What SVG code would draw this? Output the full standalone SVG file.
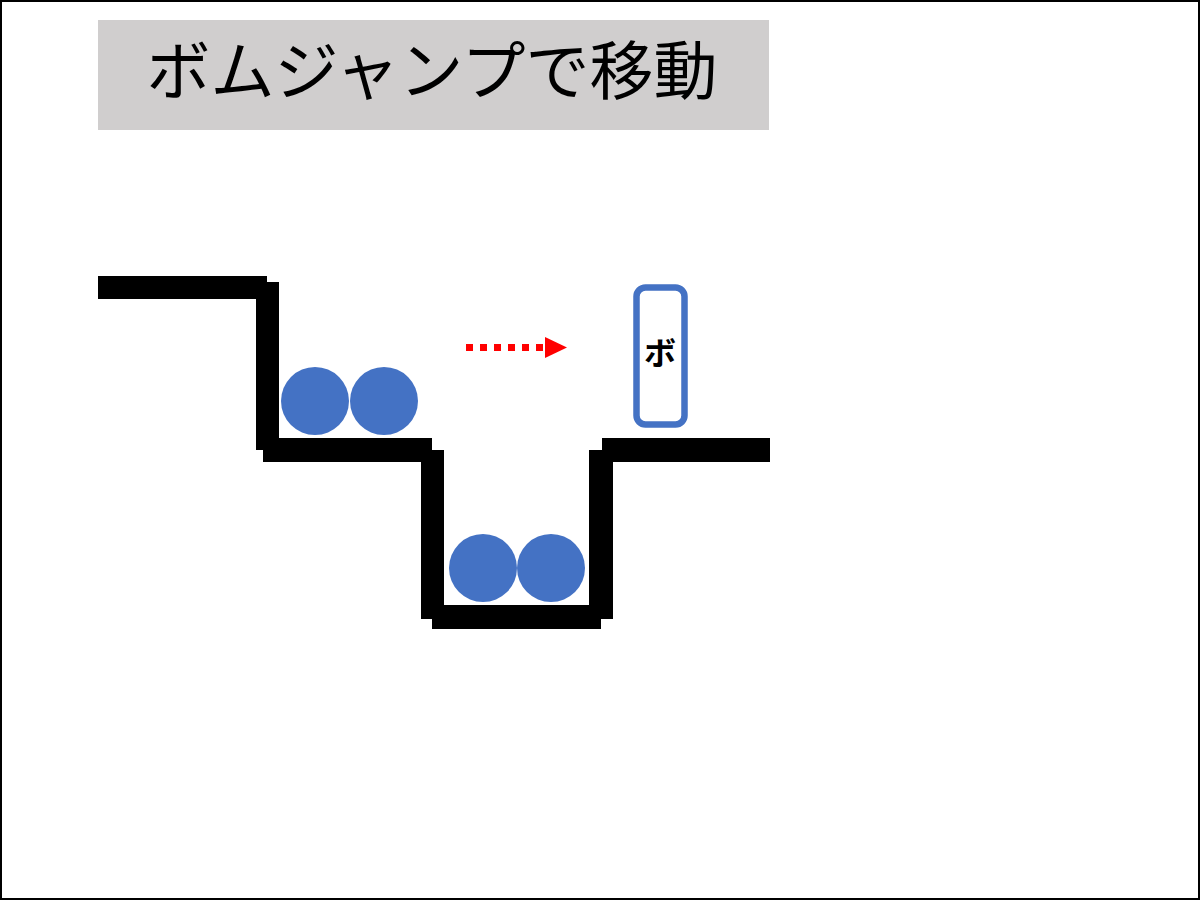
<svg xmlns="http://www.w3.org/2000/svg" width="1200" height="900" viewBox="0 0 1200 900">
<style>
.ground{fill:#000000}
.ball{fill:#4472C4}
.title{font-family:"Noto Sans CJK JP","Noto Sans",sans-serif;font-size:64px;fill:#000000}
.label{font-family:"Noto Sans CJK JP","Noto Sans",sans-serif;font-size:32px;font-weight:bold;fill:#000000}
</style>
<defs>
<marker id="arrowRed" viewBox="0 0 22 21" refX="0" refY="10.5" markerWidth="22" markerHeight="21" markerUnits="userSpaceOnUse" orient="auto">
<path d="M0,0 L22,10.5 L0,21 Z" fill="#FF0000"/>
</marker>
</defs>
<rect x="0" y="0" width="1200" height="900" fill="#FFFFFF"/>
<rect x="1" y="1" width="1198" height="898" fill="none" stroke="#000000" stroke-width="2"/>
<g id="title">
<rect x="98" y="20" width="671" height="110" fill="#D0CECE"/>
<text class="title" x="432" y="94" text-anchor="middle">ボムジャンプで移動</text>
</g>
<g id="terrain">
<rect class="ground" x="98" y="276" width="169" height="23"/>
<rect class="ground" x="256" y="282" width="23" height="168"/>
<rect class="ground" x="263" y="438" width="169" height="24"/>
<rect class="ground" x="421" y="450" width="23" height="169"/>
<rect class="ground" x="432" y="605" width="169" height="24"/>
<rect class="ground" x="589" y="450" width="24" height="169"/>
<rect class="ground" x="602" y="438" width="168" height="24"/>
</g>
<g id="balls-upper">
<circle class="ball" cx="315" cy="401" r="34"/>
<circle class="ball" cx="384" cy="401" r="34"/>
</g>
<g id="balls-lower">
<circle class="ball" cx="483" cy="568" r="34"/>
<circle class="ball" cx="551" cy="568" r="34"/>
</g>
<g id="bomb">
<rect x="636.5" y="287.5" width="48" height="137" rx="9" ry="9" fill="#FFFFFF" stroke="#4472C4" stroke-width="6.5"/>
<text class="label" x="660" y="365" text-anchor="middle">ボ</text>
</g>
<g id="connectors">
<line x1="466" y1="347.5" x2="545" y2="347.5" stroke="#FF0000" stroke-width="7" stroke-dasharray="7 7" marker-end="url(#arrowRed)"/>
</g>
</svg>
